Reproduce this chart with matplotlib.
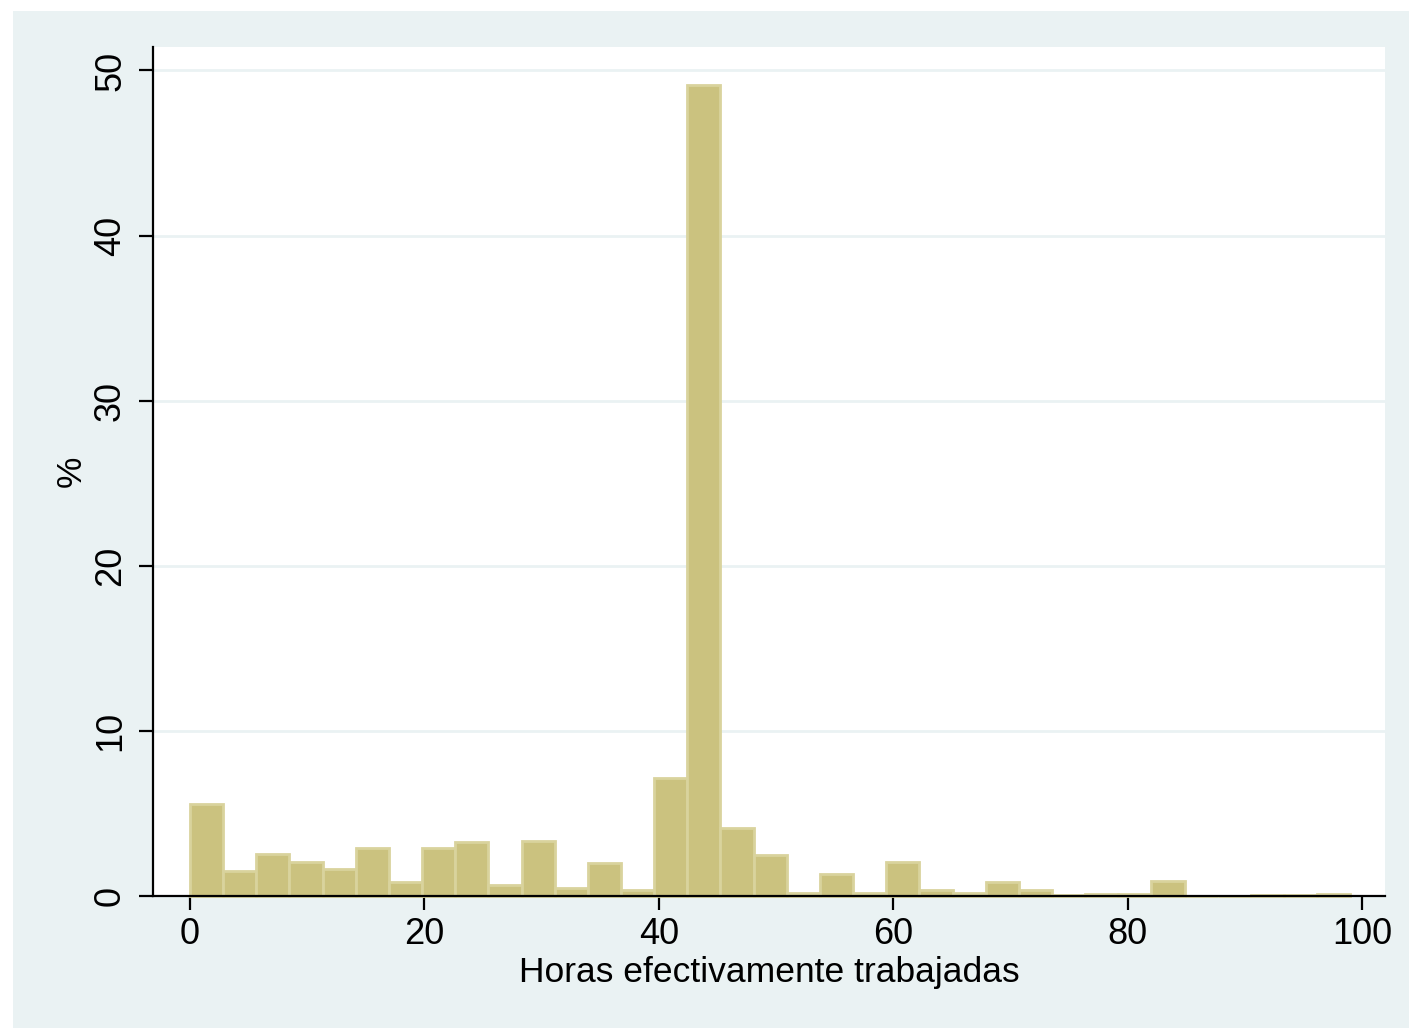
import numpy as np
import matplotlib
matplotlib.use("Agg")
import matplotlib.pyplot as plt
from matplotlib.patches import Rectangle

plt.rcParams['font.family'] = ['Liberation Sans', 'DejaVu Sans']

# Histogram of hours worked: 35 bins over 0-99
bin_start = 0
bin_end = 99
n_bins = 35
pct = [5.57, 1.51, 2.54, 2.06, 1.65, 2.91, 0.85, 2.91, 3.27, 0.67,
       3.33, 0.50, 2.00, 0.36, 7.14, 49.1, 4.12, 2.48, 0.20, 1.33,
       0.18, 2.06, 0.36, 0.20, 0.87, 0.38, 0.05, 0.10, 0.10, 0.93,
       0.0, 0.0, 0.05, 0.05, 0.10]
x_ticks = [0, 20, 40, 60, 80, 100]
y_ticks = [0, 10, 20, 30, 40, 50]

edges = np.linspace(bin_start, bin_end, n_bins + 1)
widths = np.diff(edges)

bg = '#EAF2F3'
fig = plt.figure(figsize=(14.09, 10.28), dpi=100)
bg_rect = Rectangle((13 / 1409, 0), 1 - 13 / 1409, 1 - 11 / 1028,
                    transform=fig.transFigure, facecolor=bg,
                    edgecolor='none', zorder=-10)
fig.add_artist(bg_rect)

ax = fig.add_axes([153 / 1409, 132 / 1028, 1232 / 1409, 849 / 1028])
ax.set_facecolor('white')

ax.bar(edges[:-1], pct, width=widths, align='edge', color='#CBC27F',
       edgecolor='#D9D39D', linewidth=2.0, zorder=2, clip_on=False)

ax.set_xlim(-3.16, 101.96)
ax.set_ylim(0, 51.42)
ax.set_xticks(x_ticks)
ax.set_yticks(y_ticks)
ax.yaxis.grid(True, color=bg, linewidth=2.0, zorder=1)
ax.set_axisbelow(True)

for s in ['top', 'right']:
    ax.spines[s].set_visible(False)
for s in ['left', 'bottom']:
    ax.spines[s].set_linewidth(1.6)
    ax.spines[s].set_zorder(3)

ax.tick_params(axis='both', length=10, width=1.6, labelsize=26)
ax.tick_params(axis='x', pad=5)
ax.tick_params(axis='y', pad=8)
for lbl in ax.get_yticklabels():
    lbl.set_rotation(90)
    lbl.set_va('center')

ax.set_xlabel("Horas efectivamente trabajadas", fontsize=25.5, labelpad=3)
ax.set_ylabel("%", fontsize=25.5, labelpad=4)

fig.savefig("out.png", dpi=100)
